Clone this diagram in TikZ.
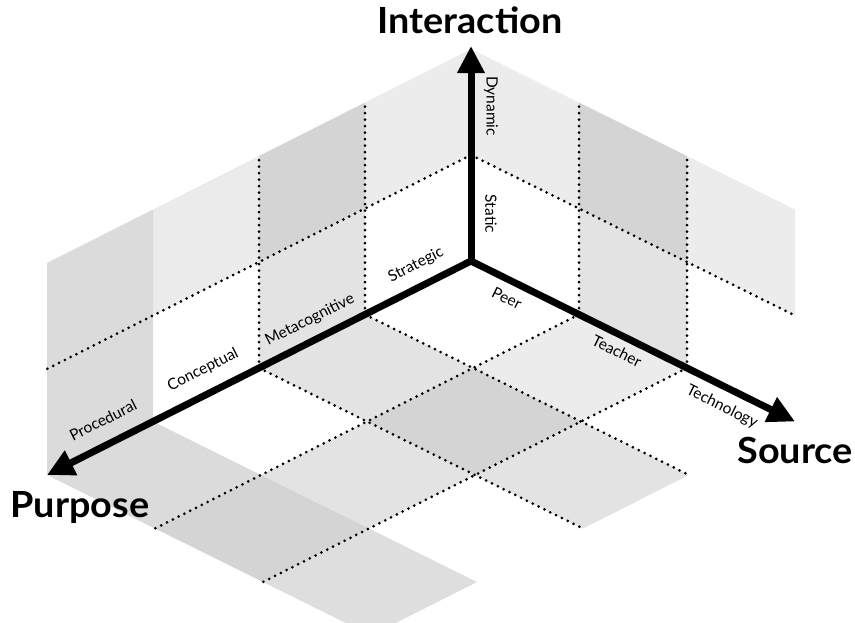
\documentclass[tikz,border=0pt]{standalone}
\usepackage{fontspec}
\setmainfont{Lato}
\usetikzlibrary{arrows.meta}
\definecolor{gA}{gray}{0.925}
\definecolor{gB}{gray}{0.89}
\definecolor{gC}{gray}{0.86}
\definecolor{gD}{gray}{0.83}
\tikzset{bigtip/.tip={Triangle[length=27pt,width=26pt]}}
\begin{document}
\begin{tikzpicture}[x=1pt,y=-1pt,
  dotline/.style={line width=3pt, line cap=round, dash pattern=on 0pt off 6.5pt, black},
  axisline/.style={line width=7pt, line join=miter},
  title/.style={font=\fontsize{36}{36}\selectfont\bfseries, anchor=base, inner sep=0pt, xscale=1.05},
  lab/.style={font=\fontsize{15.5}{15.5}\selectfont, inner sep=0pt}
]
\useasboundingbox (0,0) rectangle (855,622);
\clip (0,0) rectangle (855,622);
\coordinate (O) at (471,261);
\foreach \i in {0,...,4}{
  \foreach \j in {0,...,3}{
    \coordinate (F\i\j) at ({471-106*\i+108*\j},{261+53.5*\i+53.5*\j});
  }
  \foreach \k in {0,1,2}{
    \coordinate (W\i\k) at ({471-106*\i},{261+53.5*\i-106*\k});
  }
}
\foreach \j in {0,...,3}{
  \foreach \k in {0,1,2}{
    \coordinate (R\j\k) at ({471+108*\j},{261+53.5*\j-106*\k});
  }
}
\coordinate (Itip) at (471,46);
% left wall
\fill[gA] (W01) -- (W11) -- (W12) -- (W02) -- cycle;
\fill[gD] (W11) -- (W21) -- (W22) -- (W12) -- cycle;
\fill[gB] (W10) -- (W20) -- (W21) -- (W11) -- cycle;
\fill[gA!90!gB] (W21) -- (W31) -- (W32) -- (W22) -- cycle;
\fill[gC] (W30) -- (W40) -- (W42) -- (W32) -- cycle;
% right wall
\fill[gA] (R01) -- (R11) -- (R12) -- (R02) -- cycle;
\fill[gD] (R11) -- (R21) -- (R22) -- (R12) -- cycle;
\fill[gB] (R10) -- (R20) -- (R21) -- (R11) -- cycle;
\fill[gA] (R21) -- (R31) -- (R32) -- (R22) -- cycle;
% floor
\fill[gA] (F01) -- (F11) -- (F12) -- (F02) -- cycle;
\fill[gB] (F10) -- (F20) -- (F21) -- (F11) -- cycle;
\fill[gD] (F11) -- (F21) -- (F22) -- (F12) -- cycle;
\fill[gB] (F12) -- (F22) -- (F23) -- (F13) -- cycle;
\fill[gB] (F21) -- (F31) -- (F32) -- (F22) -- cycle;
\fill[gC] (F30) -- (F40) -- (F41) -- (F31) -- cycle;
\fill[gD] (F31) -- (F41) -- (F42) -- (F32) -- cycle;
\fill[gC!60!gB] (F32) -- (F42) -- (F43) -- (F33) -- cycle;
% dotted grid
\draw[dotline] (W10) -- (W12);
\draw[dotline] (W20) -- (W22);
\draw[dotline] (W01) -- (W41);
\draw[dotline] (R10) -- (R12);
\draw[dotline] (R20) -- (R22);
\draw[dotline] (R01) -- (R31);
\draw[dotline] (F10) -- (F13);
\draw[dotline] (F20) -- (F23);
\draw[dotline] (F01) -- (F41);
\draw[dotline] (F02) -- (F42);
% axes
\draw[axisline, bigtip-bigtip] (F40) -- (O) -- (F03);
\draw[axisline, -bigtip] (O) -- (Itip);
% titles
\node[title] (tI) at (470,33) {Interaction};
\node[title] (tP) at (80,517) {Purpose};
\node[title] (tS) at (795,463) {Source};
% labels
\node[lab, rotate=-90] (lDyn) at (491,106) {Dynamic};
\node[lab, rotate=-90] (lSta) at (491,214) {Static};
\node[lab, rotate=26.8] (lStr) at (416,265) {Strategic};
\node[lab, rotate=26.8] (lMet) at (310,320) {Metacognitive};
\node[lab, rotate=26.8] (lCon) at (203,370) {Conceptual};
\node[lab, rotate=26.8] (lPro) at (103,420) {Procedural};
\node[lab, rotate=-26.35] (lPeer) at (507,298) {Peer};
\node[lab, rotate=-26.35] (lTea) at (617,351) {Teacher};
\node[lab, rotate=-26.35] (lTec) at (722,407) {Technology};
\end{tikzpicture}
\end{document}
